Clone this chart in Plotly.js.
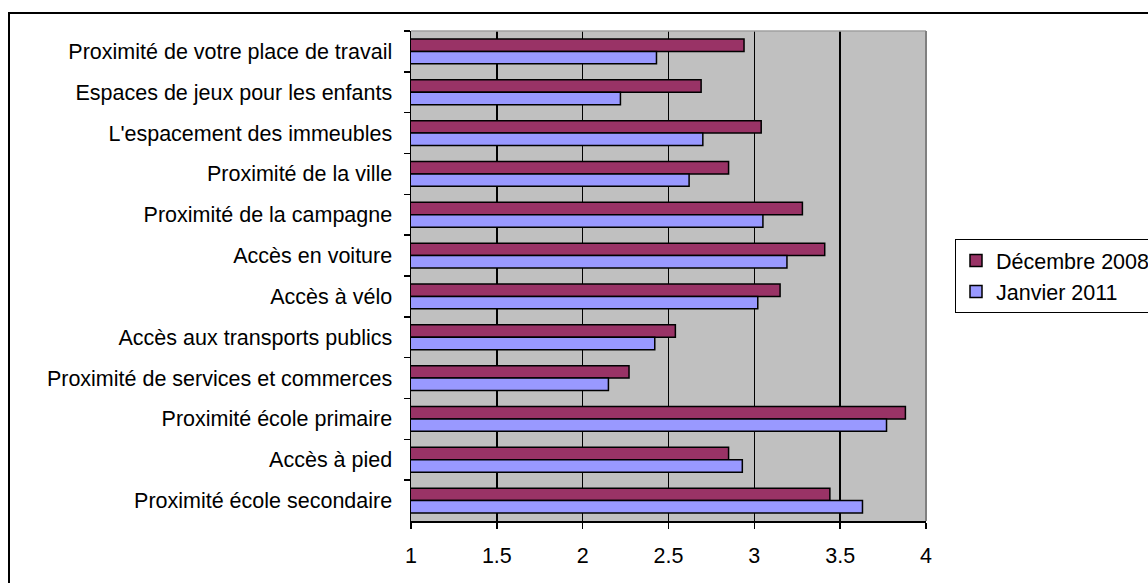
<!DOCTYPE html>
<html>
<head>
<meta charset="utf-8">
<script src="https://cdn.plot.ly/plotly-3.0.1.min.js"></script>
<style>html,body{margin:0;padding:0;background:#fff;}#chart{width:1148px;height:583px;}</style>
</head>
<body>
<div id="chart"></div>
<script>
const categories = [
  "Proximité de votre place de travail",
  "Espaces de jeux pour les enfants",
  "L'espacement des immeubles",
  "Proximité de la ville",
  "Proximité de la campagne",
  "Accès en voiture",
  "Accès à vélo",
  "Accès aux transports publics",
  "Proximité de services et commerces",
  "Proximité école primaire",
  "Accès à pied",
  "Proximité école secondaire"
];
const dec2008 = [2.94, 2.69, 3.04, 2.85, 3.28, 3.41, 3.15, 2.54, 2.27, 3.88, 2.85, 3.44];
const jan2011 = [2.43, 2.22, 2.70, 2.62, 3.05, 3.19, 3.02, 2.42, 2.15, 3.77, 2.93, 3.63];
const xTicks = [1, 1.5, 2, 2.5, 3, 3.5, 4];

const W = 1148, H = 583;
const L = 411, R = 926, T = 31, B = 521;
const pw = R - L, ph = B - T;
const px = v => (v - L) / pw;
const py = v => (B - v) / ph;
const FS = 21.5;

const traces = [
  {type: 'bar', orientation: 'h', name: 'Décembre 2008', y: categories, x: dec2008,
   marker: {color: '#993366', line: {color: '#000000', width: 1.5}}},
  {type: 'bar', orientation: 'h', name: 'Janvier 2011', y: categories, x: jan2011,
   marker: {color: '#9999FF', line: {color: '#000000', width: 1.5}}}
];

const layout = {
  width: W, height: H,
  margin: {l: L, r: W - R, t: T, b: H - B, pad: 0, autoexpand: false},
  paper_bgcolor: '#ffffff',
  plot_bgcolor: '#C0C0C0',
  font: {family: 'Liberation Sans, Arial, sans-serif', size: FS, color: '#000000'},
  barmode: 'group',
  bargap: 0.39,
  bargroupgap: 0,
  showlegend: true,
  legend: {
    x: px(955), y: py(239), xanchor: 'left', yanchor: 'top',
    bordercolor: '#000000', borderwidth: 1, bgcolor: '#ffffff',
    font: {size: FS, family: 'Liberation Sans, Arial, sans-serif'},
    tracegroupgap: 0
  },
  xaxis: {
    range: [1, 4], tickvals: xTicks, ticktext: xTicks.map(String),
    showgrid: true, gridcolor: '#000000', gridwidth: 1.5,
    zeroline: false, showline: true, linecolor: '#000000', linewidth: 1.5,
    ticks: 'outside', ticklen: 6, tickcolor: '#000000', tickwidth: 1.5,
    ticklabelstandoff: 9, fixedrange: true
  },
  yaxis: {
    type: 'category', autorange: 'reversed',
    showgrid: false, zeroline: false, showline: true, linecolor: '#000000', linewidth: 1.5,
    ticks: 'outside', ticklen: 6, tickcolor: '#000000', tickwidth: 1.5,
    tickson: 'boundaries', ticklabelstandoff: 13, fixedrange: true
  },
  shapes: [
    {type: 'line', xref: 'paper', yref: 'paper', x0: 0, x1: 1, y0: 1, y1: 1,
     line: {color: '#A0A0A0', width: 1.5}},
    {type: 'line', xref: 'paper', yref: 'paper', x0: 1, x1: 1, y0: 0, y1: 1,
     line: {color: '#808080', width: 2}},
    {type: 'rect', xref: 'paper', yref: 'paper',
     x0: px(9), x1: px(1170), y0: py(600), y1: py(13),
     line: {color: '#000000', width: 2}, fillcolor: 'rgba(0,0,0,0)'}
  ]
};

Plotly.newPlot('chart', traces, layout, {displayModeBar: false, staticPlot: true});
</script>
</body>
</html>
